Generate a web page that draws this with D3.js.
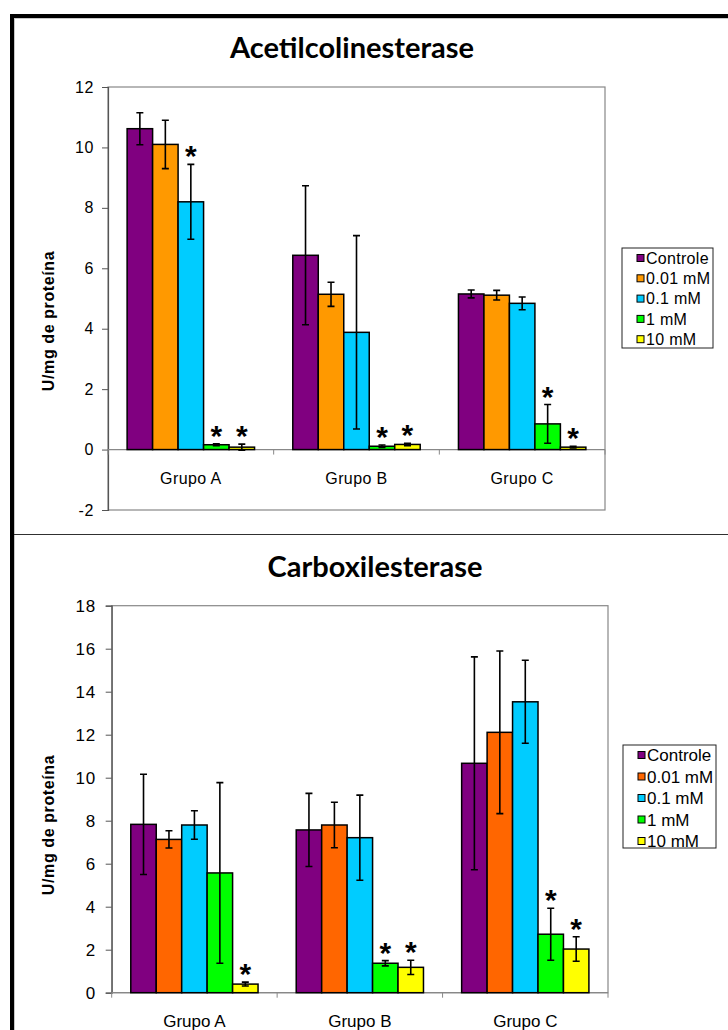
<!DOCTYPE html>
<html>
<head>
<meta charset="utf-8">
<script src="https://cdn.jsdelivr.net/npm/d3@7"></script>
<style>
  body { margin: 0; background: #fff; }
  svg { display: block; }
  text { font-family: "Liberation Sans", Arial, sans-serif; fill: #000; }
</style>
</head>
<body>
<svg id="chart" width="728" height="1030"></svg>
<script>
// categorias e séries
const categories = ['Grupo A', 'Grupo B', 'Grupo C'];
const seriesNames = ['Controle', '0.01 mM', '0.1 mM', '1 mM', '10 mM'];

// Acetilcolinesterase (média, erro, significância) por grupo
const acetilMean = [[10.62, 10.1, 8.2, 0.16, 0.08], [6.43, 5.14, 3.88, 0.11, 0.17], [5.15, 5.11, 4.84, 0.85, 0.08]];
const acetilErr  = [[0.53, 0.8, 1.24, 0.03, 0.1], [2.3, 0.4, 3.2, 0.04, 0.04], [0.13, 0.16, 0.21, 0.64, 0.03]];
const acetilSig  = [[0, 0, 1, 1, 1], [0, 0, 0, 1, 1], [0, 0, 0, 1, 1]];
const acetilTicks = [-2, 0, 2, 4, 6, 8, 10, 12];
const acetilColors = ['#800080', '#FF9900', '#00CCFF', '#00FF00', '#FFFF00'];

// Carboxilesterase
const carboxMean = [[7.83, 7.13, 7.8, 5.57, 0.4], [7.57, 7.8, 7.21, 1.37, 1.18], [10.67, 12.11, 13.53, 2.72, 2.03]];
const carboxErr  = [[2.33, 0.4, 0.66, 4.2, 0.09], [1.7, 1.06, 1.98, 0.12, 0.33], [4.95, 3.78, 1.93, 1.21, 0.57]];
const carboxSig  = [[0, 0, 0, 0, 1], [0, 0, 0, 1, 1], [0, 0, 0, 1, 1]];
const carboxTicks = [0, 2, 4, 6, 8, 10, 12, 14, 16, 18];
const carboxColors = ['#800080', '#FF6600', '#00CCFF', '#00FF00', '#FFFF00'];

const svg = d3.select('#chart');

// moldura
svg.append('line').attr('x1', 12).attr('x2', 12).attr('y1', 14).attr('y2', 1030)
  .attr('stroke', '#000').attr('stroke-width', 4);
svg.append('line').attr('x1', 10).attr('x2', 728).attr('y1', 16).attr('y2', 16)
  .attr('stroke', '#000').attr('stroke-width', 4);
svg.append('line').attr('x1', 14.5).attr('x2', 14.5).attr('y1', 18).attr('y2', 1030)
  .attr('stroke', '#c8c8c8').attr('stroke-width', 1);
svg.append('line').attr('x1', 14).attr('x2', 728).attr('y1', 18.5).attr('y2', 18.5)
  .attr('stroke', '#c8c8c8').attr('stroke-width', 1);
svg.append('line').attr('x1', 14).attr('x2', 728).attr('y1', 534.5).attr('y2', 534.5)
  .attr('stroke', '#303030').attr('stroke-width', 1.2);

function drawChart(opt) {
  const g = svg.append('g');
  const x = d3.scaleBand().domain(categories).range([opt.left, opt.right]);
  const bw = x.bandwidth();
  const inner = d3.scaleBand().domain(seriesNames)
    .range([bw * 0.75 / 6.5, bw * (1 - 0.75 / 6.5)]);
  const y = d3.scaleLinear().domain(opt.domain).range([opt.bottom, opt.top]);

  // título
  g.append('text').attr('x', opt.titleX).attr('y', opt.titleY)
    .attr('text-anchor', 'middle')
    .style('font-family', 'Lato, "Open Sans", sans-serif')
    .style('font-weight', 700).style('font-size', '29px')
    .text(opt.title);

  // área do gráfico
  g.append('rect').attr('x', opt.left).attr('y', opt.top)
    .attr('width', opt.right - opt.left).attr('height', opt.bottom - opt.top)
    .attr('fill', '#fff').attr('stroke', '#888').attr('stroke-width', 1.2);

  // eixo y
  const yAxis = g.append('g').attr('transform', `translate(${opt.left},0)`)
    .call(d3.axisLeft(y).tickValues(opt.ticks).tickSize(6).tickPadding(opt.tickPad).tickFormat(d => String(d)));
  yAxis.select('.domain').attr('stroke', '#555').attr('stroke-width', 1.2);
  yAxis.selectAll('.tick line').attr('stroke', '#555');
  yAxis.selectAll('.tick text')
    .style('font-family', '"Liberation Sans", Arial, sans-serif')
    .style('font-size', opt.fs + 'px').style('letter-spacing', '0.6px');

  // eixo x no zero
  const y0 = y(0);
  g.append('line').attr('x1', opt.left).attr('x2', opt.right).attr('y1', y0).attr('y2', y0)
    .attr('stroke', '#888').attr('stroke-width', 1.2);
  g.selectAll('.xtick').data(categories.concat(['end']))
    .enter().append('line')
    .attr('x1', (d, i) => opt.left + i * bw).attr('x2', (d, i) => opt.left + i * bw)
    .attr('y1', y0).attr('y2', y0 + 5)
    .attr('stroke', '#888').attr('stroke-width', 1);
  g.selectAll('.xlabel').data(categories)
    .enter().append('text')
    .attr('x', d => x(d) + bw / 2).attr('y', opt.catY)
    .attr('text-anchor', 'middle')
    .style('font-size', opt.fs + 'px').style('letter-spacing', opt.catSpacing)
    .text(d => d);

  // rótulo do eixo y
  g.append('text')
    .attr('transform', `translate(${opt.ylabX},${opt.ylabY}) rotate(-90)`)
    .attr('text-anchor', 'middle')
    .style('font-weight', 700).style('font-size', '16px').style('letter-spacing', '0.6px')
    .text('U/mg de proteína');

  // barras
  const groups = g.selectAll('.grp').data(categories).enter().append('g')
    .attr('transform', d => `translate(${x(d)},0)`);

  groups.each(function (cat, gi) {
    const grp = d3.select(this);
    const rows = seriesNames.map((s, si) => ({
      s, si, v: opt.mean[gi][si], e: opt.err[gi][si], sig: opt.sig[gi][si]
    }));
    grp.selectAll('rect').data(rows).enter().append('rect')
      .attr('x', d => inner(d.s))
      .attr('y', d => y(d.v))
      .attr('width', inner.bandwidth())
      .attr('height', d => y0 - y(d.v))
      .attr('fill', d => opt.colors[d.si])
      .attr('stroke', '#000').attr('stroke-width', 1.5);

    const cx = d => inner(d.s) + inner.bandwidth() / 2;
    grp.selectAll('.err').data(rows).enter().append('path')
      .attr('d', d => {
        const t = y(d.v + d.e), b = y(d.v - d.e), c = cx(d);
        return `M${c},${t}V${b}M${c - 3.5},${t}H${c + 3.5}M${c - 3.5},${b}H${c + 3.5}`;
      })
      .attr('fill', 'none').attr('stroke', '#000').attr('stroke-width', 1.6);

    grp.selectAll('.sig').data(rows.filter(d => d.sig)).enter().append('text')
      .attr('x', cx).attr('y', d => y(d.v + d.e) + 2)
      .attr('text-anchor', 'middle')
      .style('font-size', '30px').style('font-weight', 700)
      .text('*');
  });

  // legenda
  const lg = g.append('g');
  lg.append('rect').attr('x', opt.legX).attr('y', opt.legY)
    .attr('width', opt.legW).attr('height', opt.legH)
    .attr('fill', '#fff').attr('stroke', '#222').attr('stroke-width', 1);
  const items = lg.selectAll('.li').data(seriesNames).enter().append('g')
    .attr('transform', (d, i) => `translate(${opt.legX + 15},${opt.legY + 10 + i * opt.legStep})`);
  items.append('rect').attr('x', 0).attr('y', -3.5).attr('width', 7).attr('height', 7)
    .attr('fill', (d, i) => opt.colors[i]).attr('stroke', '#000').attr('stroke-width', 1);
  items.append('text').attr('x', 9).attr('y', 0).attr('dy', '0.36em')
    .style('font-size', opt.legFs + 'px').style('letter-spacing', opt.legSpacing)
    .text(d => d);
}

drawChart({
  title: 'Acetilcolinesterase', titleX: 352, titleY: 58,
  left: 108, right: 605, top: 87, bottom: 510,
  domain: [-2, 12], ticks: acetilTicks, tickPad: 8, fs: 16,
  mean: acetilMean, err: acetilErr, sig: acetilSig, colors: acetilColors,
  catY: 484, catSpacing: '0.4px',
  ylabX: 54, ylabY: 321,
  legX: 622, legY: 248, legW: 91, legH: 100, legStep: 20.3, legFs: 16, legSpacing: '0.3px'
});

drawChart({
  title: 'Carboxilesterase', titleX: 375, titleY: 577,
  left: 111.7, right: 608, top: 605.7, bottom: 992.7,
  domain: [0, 18], ticks: carboxTicks, tickPad: 10, fs: 17,
  mean: carboxMean, err: carboxErr, sig: carboxSig, colors: carboxColors,
  catY: 1027, catSpacing: '0px',
  ylabX: 54, ylabY: 825,
  legX: 623, legY: 745, legW: 93, legH: 103, legStep: 21.5, legFs: 17, legSpacing: '0px'
});
</script>
</body>
</html>
